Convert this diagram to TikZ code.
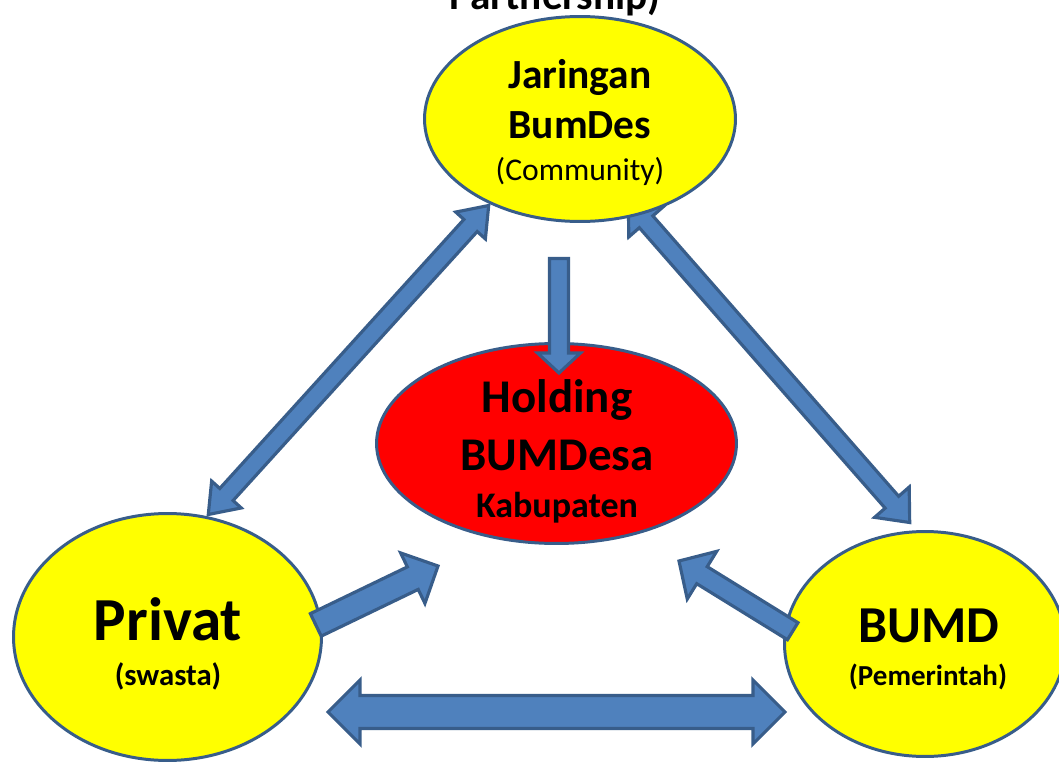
\documentclass[tikz,border=0pt]{standalone}
\usepackage{fontspec}
\setmainfont{Carlito}
\usetikzlibrary{shapes.geometric,calc}

\definecolor{arrowfill}{HTML}{4F81BD}
\definecolor{edgeblue}{HTML}{385D8A}
\definecolor{nodeyellow}{HTML}{FFFF00}
\definecolor{nodered}{HTML}{FF0000}

% block arrow with a head at both ends: tips #1 and #2,
% half shaft width #3, half head width #4, head length #5 (all in px)
\newcommand\dblarrow[5]{%
  \coordinate (ba-p) at ($(#1)!#5*0.56905pt!(#2)$);
  \coordinate (ba-q) at ($(#2)!#5*0.56905pt!(#1)$);
  \draw[blockarrow] (#1)
    -- ($(ba-p)!#4*0.56905pt!90:(#2)$)
    -- ($(ba-p)!#3*0.56905pt!90:(#2)$)
    -- ($(ba-q)!#3*0.56905pt!-90:(#1)$)
    -- ($(ba-q)!#4*0.56905pt!-90:(#1)$)
    -- (#2)
    -- ($(ba-q)!#4*0.56905pt!90:(#1)$)
    -- ($(ba-q)!#3*0.56905pt!90:(#1)$)
    -- ($(ba-p)!#3*0.56905pt!-90:(#2)$)
    -- ($(ba-p)!#4*0.56905pt!-90:(#2)$)
    -- cycle;}

% block arrow with one head: tail centre #1, tip #2
\newcommand\sglarrow[5]{%
  \coordinate (ba-q) at ($(#2)!#5*0.56905pt!(#1)$);
  \draw[blockarrow] ($(#1)!#3*0.56905pt!90:(#2)$)
    -- ($(ba-q)!#3*0.56905pt!-90:(#1)$)
    -- ($(ba-q)!#4*0.56905pt!-90:(#1)$)
    -- (#2)
    -- ($(ba-q)!#4*0.56905pt!90:(#1)$)
    -- ($(ba-q)!#3*0.56905pt!90:(#1)$)
    -- ($(#1)!#3*0.56905pt!-90:(#2)$)
    -- cycle;}

\begin{document}
\begin{tikzpicture}[x=0.02cm, y=-0.02cm,
  blockarrow/.style={fill=arrowfill, draw=edgeblue, line width=1.8pt, line join=miter},
  party/.style={ellipse, draw=edgeblue, line width=1.7pt, fill=nodeyellow, inner sep=0pt, outer sep=0pt},
  hub/.style={ellipse, draw=edgeblue, line width=1.7pt, fill=nodered, inner sep=0pt, outer sep=0pt},
  lbl/.style={anchor=base, inner sep=0pt, text=black}]

\useasboundingbox (0,0) rectangle (1059,764);
\clip (0,0) rectangle (1059,764);

% arrow end points
\coordinate (a1a) at (488.7,205.5);
\coordinate (a1b) at (208.3,514.5);
\coordinate (a2a) at (628.3,201.5);
\coordinate (a2b) at (909.7,522.5);
\coordinate (a3a) at (559,258.5);
\coordinate (a3b) at (559,373);
\coordinate (a4a) at (315.8,624.9);
\coordinate (a4b) at (438,566);
\coordinate (a5a) at (792.7,631.2);
\coordinate (a5b) at (679,561);
\coordinate (a6a) at (328,712);
\coordinate (a6b) at (785,712);

% links along the sides of the triangle
\dblarrow{a1a}{a1b}{9}{20}{27}
\dblarrow{a2a}{a2b}{9}{23}{27}
\dblarrow{a6a}{a6b}{16.5}{32}{32}

% the four parties
\node[party, minimum width=6.22cm, minimum height=4.10cm] (jaringan) at (580,119) {};
\node[hub, minimum width=7.20cm, minimum height=4.00cm] (holding) at (556.5,443.5) {};
\node[party, minimum width=6.16cm, minimum height=4.94cm] (privat) at (167.5,637) {};
\node[party, minimum width=5.62cm, minimum height=4.50cm] (bumd) at (925,644) {};

% flows into the holding
\sglarrow{a3a}{a3b}{9.5}{21.5}{20}
\sglarrow{a4a}{a4b}{12.5}{28}{28}
\sglarrow{a5a}{a5b}{10}{28}{27}

% heading
\node[lbl, font=\fontsize{23.5}{28}\selectfont\bfseries] (title) at (555,10) {Partnership)};

% labels
\node[lbl, font=\fontsize{23.6}{28}\selectfont\bfseries] (jar1) at (580,88) {Jaringan};
\node[lbl, font=\fontsize{23.6}{28}\selectfont\bfseries] (jar2) at (580,138) {BumDes};
\node[lbl, font=\fontsize{18}{22}\selectfont] (jar3) at (580,180) {(Community)};

\node[lbl, font=\fontsize{26.7}{32}\selectfont\bfseries] (hol1) at (557,412) {Holding};
\node[lbl, font=\fontsize{26.7}{32}\selectfont\bfseries] (hol2) at (557,470) {BUMDesa};
\node[lbl, font=\fontsize{20.5}{24}\selectfont\bfseries] (hol3) at (557,517) {Kabupaten};

\node[lbl, font=\fontsize{34.8}{40}\selectfont\bfseries] (pri1) at (168,640) {Privat};
\node[lbl, font=\fontsize{17.5}{21}\selectfont\bfseries] (pri2) at (168,685) {(swasta)};

\node[lbl, font=\fontsize{29.5}{35}\selectfont\bfseries] (bum1) at (929,642) {BUMD};
\node[lbl, font=\fontsize{16.5}{20}\selectfont\bfseries] (bum2) at (928,685) {(Pemerintah)};
\end{tikzpicture}
\end{document}
